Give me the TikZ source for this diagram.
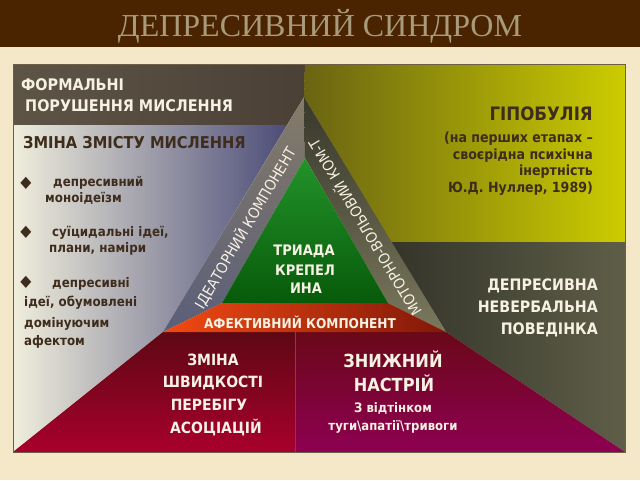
\documentclass[tikz,border=0pt]{standalone}
\usepackage{fontspec}
\newfontfamily\bodyfont{DejaVu Sans}[FakeStretch=0.9]
\newfontfamily\titlefont{Liberation Serif}
\definecolor{bg}{HTML}{F4E8C8}
\definecolor{bar}{HTML}{4A2400}
\definecolor{ttl}{HTML}{A89A7A}
\definecolor{txtw}{HTML}{F6F1E2}
\definecolor{txtd}{HTML}{3E2C1C}
\definecolor{frm}{HTML}{6E5E48}
\definecolor{topL}{HTML}{5E5446}
\definecolor{topR}{HTML}{4A4036}
\definecolor{grayL}{HTML}{F0EEDC}
\definecolor{grayM}{HTML}{B6B4B2}
\definecolor{grayR}{HTML}{4C4C78}
\definecolor{ideaT}{HTML}{857B68}
\definecolor{ideaB}{HTML}{5A5E7A}
\definecolor{motoT}{HTML}{38382C}
\definecolor{motoB}{HTML}{7A785C}
\definecolor{grnT}{HTML}{23932A}
\definecolor{grnB}{HTML}{075A0A}
\definecolor{redL}{HTML}{F24A12}
\definecolor{redM}{HTML}{D02810}
\definecolor{redR}{HTML}{801808}
\definecolor{oliL}{HTML}{6A6412}
\definecolor{oliR}{HTML}{CCCC00}
\definecolor{dolL}{HTML}{34342A}
\definecolor{dolR}{HTML}{5E5E48}
\definecolor{marT}{HTML}{5E0814}
\definecolor{marB}{HTML}{A8002C}
\definecolor{purT}{HTML}{6A0818}
\definecolor{purB}{HTML}{8E0052}
\definecolor{divc}{HTML}{8A3A48}
\begin{document}
\begin{tikzpicture}[x=1pt,y=-1pt,
  wt/.style={text=txtw,inner sep=0pt},
  dt/.style={text=txtd,inner sep=0pt},
  fs/.style={font=\bodyfont\bfseries\fontsize{#1}{#1}\selectfont},
  fr/.style={font=\bodyfont\fontsize{#1}{#1}\selectfont}]
\useasboundingbox (0,0) rectangle (640,480);
\fill[bg] (0,0) rectangle (640,480);
\fill[bar] (0,0) rectangle (640,47);
\node[text=ttl,anchor=base,inner sep=0pt,font=\titlefont\fontsize{32}{32}\selectfont] (title) at (320,36) {ДЕПРЕСИВНИЙ СИНДРОМ};

% key points
\coordinate (TL) at (13,64);
\coordinate (TR) at (625,64);
\coordinate (BL) at (13,452);
\coordinate (BR) at (625,452);
\coordinate (A) at (304,97);
\coordinate (TM) at (305,64);
\coordinate (B1) at (287,125);
\coordinate (L1) at (13,125);
\coordinate (PL) at (163,332);
\coordinate (PR) at (446,332);
\coordinate (GT) at (305,158);
\coordinate (GL) at (222,303);
\coordinate (GR) at (388,303);
\coordinate (OL) at (391,242);
\coordinate (OR) at (625,242);
\coordinate (DM) at (295,332);
\coordinate (DB) at (295,452);

% regions
\shade[left color=topL,right color=topR] (TL) -- (TM) -- (A) -- (B1) -- (L1) -- cycle;
\shade[left color=grayL,middle color=grayM,right color=grayR] (L1) -- (B1) -- (PL) -- (BL) -- cycle;
\shade[left color=oliL,right color=oliR] (TM) -- (TR) -- (OR) -- (OL) -- (A) -- cycle;
\shade[left color=dolL,right color=dolR] (OL) -- (OR) -- (BR) -- (PR) -- cycle;
\shade[top color=marT,bottom color=marB] (BL) -- (PL) -- (DM) -- (DB) -- cycle;
\shade[top color=purT,bottom color=purB] (DM) -- (PR) -- (BR) -- (DB) -- cycle;
\shade[top color=ideaT,bottom color=ideaB] (A) -- (PL) -- (GL) -- (GT) -- cycle;
\shade[top color=motoT,bottom color=motoB] (A) -- (GT) -- (GR) -- (PR) -- cycle;
\shade[top color=grnT,bottom color=grnB] (GT) -- (GL) -- (GR) -- cycle;
\shade[left color=redL,middle color=redM,right color=redR] (GL) -- (GR) -- (PR) -- (PL) -- cycle;
\draw[divc,line width=0.5pt] (DM) -- (DB);
\draw[frm,line width=0.7pt] (TL) rectangle (BR);

% top-left
\node[wt,fs=16,anchor=base west] (f1) at (21,90) {ФОРМАЛЬНІ};
\node[wt,fs=16,anchor=base west] (f2) at (25,111) {ПОРУШЕННЯ МИСЛЕННЯ};
% left gray
\node[dt,fs=16.3,anchor=base west] (z1) at (23,148) {ЗМІНА ЗМІСТУ МИСЛЕННЯ};
\node[dt,fs=16] (d1) at (26,183) {◆};
\node[dt,fs=16] (d2) at (26,232) {◆};
\node[dt,fs=16] (d3) at (26,282) {◆};
\node[dt,fs=13.2,anchor=base west] (b1a) at (53,186) {депресивний};
\node[dt,fs=13.2,anchor=base west] (b1b) at (45,202) {моноідеїзм};
\node[dt,fs=13.2,anchor=base west] (b2a) at (52,236) {суїцидальні ідеї,};
\node[dt,fs=13.2,anchor=base west] (b2b) at (49,252) {плани, наміри};
\node[dt,fs=13.2,anchor=base west] (b3a) at (52,287) {депресивні};
\node[dt,fs=13.2,anchor=base west] (b3b) at (24,306) {ідеї, обумовлені};
\node[dt,fs=13.2,anchor=base west] (b3c) at (24,327) {домінуючим};
\node[dt,fs=13.2,anchor=base west] (b3d) at (24,345) {афектом};
% olive
\node[dt,fs=18.5,anchor=base east] (g0) at (593,120) {ГІПОБУЛІЯ};
\node[dt,fs=14,anchor=base east] (g1) at (593,142) {(на перших етапах –};
\node[dt,fs=14,anchor=base east] (g2) at (593,159) {своєрідна психічна};
\node[dt,fs=14,anchor=base east] (g3) at (593,175) {інертність};
\node[dt,fs=14,anchor=base east] (g4) at (593,192) {Ю.Д. Нуллер, 1989)};
% dark olive
\node[wt,fs=15.8,anchor=base east] (n1) at (598,290) {ДЕПРЕСИВНА};
\node[wt,fs=15.8,anchor=base east] (n2) at (598,312) {НЕВЕРБАЛЬНА};
\node[wt,fs=15.8,anchor=base east] (n3) at (598,334) {ПОВЕДІНКА};
% maroon
\node[wt,fs=15.5,anchor=base] (s1) at (213,365) {ЗМІНА};
\node[wt,fs=15.5,anchor=base] (s2) at (213,387) {ШВИДКОСТІ};
\node[wt,fs=15.5,anchor=base] (s3) at (209,410) {ПЕРЕБІГУ};
\node[wt,fs=15.5,anchor=base] (s4) at (216,433) {АСОЦІАЦІЙ};
% purple
\node[wt,fs=18,anchor=base] (m1) at (393,367) {ЗНИЖНИЙ};
\node[wt,fs=18,anchor=base] (m2) at (394,391) {НАСТРІЙ};
\node[wt,fs=13,anchor=base] (m3) at (393,412) {З відтінком};
\node[wt,fs=13,anchor=base] (m4) at (393,430) {туги\textbackslash апатії\textbackslash тривоги};
% triangle
\node[wt,fs=14.5,anchor=base] (t1) at (304,255) {ТРИАДА};
\node[wt,fs=14.5,anchor=base] (t2) at (305,275) {КРЕПЕЛ};
\node[wt,fs=14.5,anchor=base] (t3) at (306,293) {ИНА};
\node[wt,fs=13.5] (af) at (300,322) {АФЕКТИВНИЙ КОМПОНЕНТ};
\node[wt,fr=15,rotate=59.5] (id) at (245,228) {ІДЕАТОРНИЙ КОМПОНЕНТ};
\node[wt,fr=15,rotate=121] (mo) at (364,228) {МОТОРНО-ВОЛЬОВИЙ КОМ-Т};
\end{tikzpicture}
\end{document}
